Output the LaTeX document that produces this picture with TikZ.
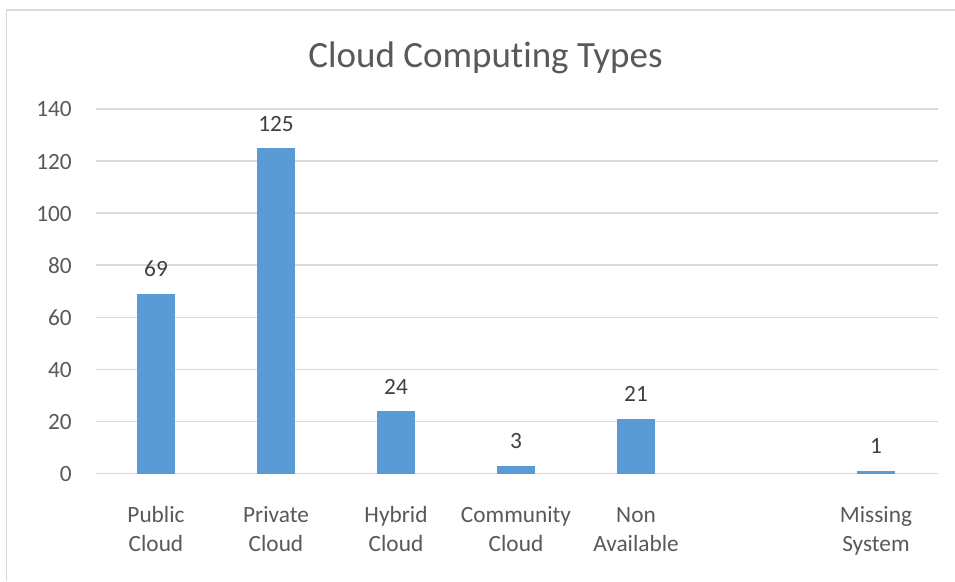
\documentclass[tikz,border=0pt]{standalone}
\usepackage{fontspec}
\setmainfont{Carlito}[RawFeature={-liga;-calt;-clig;-dlig}]
\definecolor{barblue}{HTML}{5B9BD5}
\definecolor{gridgray}{HTML}{D9D9D9}
\definecolor{txtgray}{HTML}{595959}
\definecolor{valgray}{HTML}{404040}
\begin{document}
\begin{tikzpicture}[x=1pt,y=-1pt,
  gridline/.style={draw=gridgray,line width=1.5pt},
  bar/.style={fill=barblue,draw=none},
  ticklab/.style={anchor=base east,text=txtgray,font=\fontsize{23.3}{29}\selectfont,inner sep=0pt},
  catlab/.style={anchor=base,align=center,text=txtgray,font=\fontsize{23.3}{29}\selectfont,inner sep=0pt},
  vallab/.style={anchor=base,text=valgray,font=\fontsize{23.3}{29}\selectfont,inner sep=0pt},
  titlelab/.style={anchor=base,text=txtgray,font=\fontsize{37}{44}\selectfont,inner sep=0pt}]
\useasboundingbox (0,0) rectangle (955,581);
\fill[white] (0,0) rectangle (955,581);
% chart border
\draw[gridgray,line width=1.5pt] (6.5,581) -- (6.5,10) -- (955,10);
% title
\node[titlelab] (title) at (485.5,67) {Cloud Computing Types};
% gridlines and tick labels
\foreach \v in {0,20,...,140}{
  \pgfmathsetmacro{\yy}{473.5-\v*2.604}
  \draw[gridline] (96,\yy) -- (938,\yy);
  \node[ticklab] (tick\v) at (72,\yy+8) {\v};
}
% bars
\foreach \i/\val/\lab in {0/69/Public\\Cloud,1/125/Private\\Cloud,2/24/Hybrid\\Cloud,3/3/Community\\Cloud,4/21/Non\\Available,6/1/Missing\\System}{
  \pgfmathsetmacro{\cx}{156+120*\i}
  \pgfmathsetmacro{\top}{473.5-\val*2.604}
  \fill[bar] (\cx-18.75,473.5) rectangle (\cx+18.75,\top);
  \node[vallab] (val\i) at (\cx,\top-17) {\val};
  \node[catlab] (cat\i) at (\cx,551) {\lab};
}
\end{tikzpicture}
\end{document}
